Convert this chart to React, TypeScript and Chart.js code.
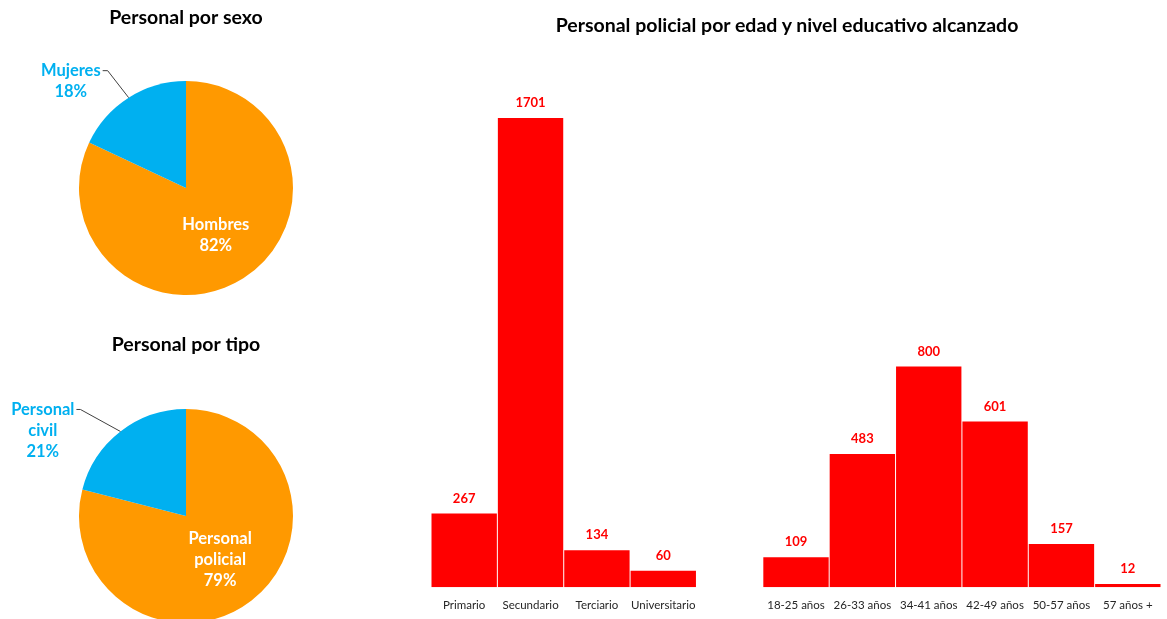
import React, { useEffect, useRef } from "react";
import { Chart, registerables } from "chart.js";

Chart.register(...registerables);

// ---- Data ----
const sexLabels = ["Hombres", "Mujeres"];
const sexValues = [82, 18];

const typeLabels = ["Personal policial", "Personal civil"];
const typeValues = [79, 21];

const eduLabels = ["Primario", "Secundario", "Terciario", "Universitario"];
const eduValues = [267, 1701, 134, 60];

const ageLabels = ["18-25 años", "26-33 años", "34-41 años", "42-49 años", "50-57 años", "57 años +"];
const ageValues = [109, 483, 800, 601, 157, 12];

const FONT = "Lato, 'Open Sans', sans-serif";
const ORANGE = "#FF9900";
const BLUE = "#00B0F0";
const RED = "#FF0000";

type PieLabelCfg = {
  insideLines: string[];
  outsideLines: string[];
  elbowDx: number;
  elbowDy: number;
  textGap: number;
};

function makePiePlugin(cfg: PieLabelCfg) {
  return {
    id: "pieLabels",
    afterDatasetsDraw(chart: any) {
      const ctx = chart.ctx;
      const meta = chart.getDatasetMeta(0);
      const inside = meta.data[0];
      const outside = meta.data[1];
      ctx.save();
      ctx.font = `bold 16.5px ${FONT}`;
      ctx.textAlign = "center";
      ctx.textBaseline = "middle";
      // inside label
      {
        const mid = (inside.startAngle + inside.endAngle) / 2;
        const r = inside.outerRadius * 0.52;
        const cx = inside.x + Math.cos(mid) * r;
        const cy = inside.y + Math.sin(mid) * r;
        const lh = 21;
        const n = cfg.insideLines.length;
        ctx.fillStyle = "#FFFFFF";
        cfg.insideLines.forEach((t, i) => {
          ctx.fillText(t, cx, cy + (i - (n - 1) / 2) * lh);
        });
      }
      // outside label with leader line
      {
        const mid = (outside.startAngle + outside.endAngle) / 2;
        const px = outside.x + Math.cos(mid) * outside.outerRadius;
        const py = outside.y + Math.sin(mid) * outside.outerRadius;
        const ex = px + cfg.elbowDx;
        const ey = py + cfg.elbowDy;
        const tx = ex - cfg.textGap;
        ctx.strokeStyle = "#404040";
        ctx.lineWidth = 1;
        ctx.beginPath();
        ctx.moveTo(px, py);
        ctx.lineTo(ex, ey);
        ctx.lineTo(tx, ey);
        ctx.stroke();
        ctx.fillStyle = BLUE;
        const lh = 21;
        const widths = cfg.outsideLines.map((t) => ctx.measureText(t).width);
        const maxW = Math.max(...widths);
        const centerX = tx - 2 - maxW / 2;
        cfg.outsideLines.forEach((t, i) => {
          ctx.fillText(t, centerX, ey + i * lh);
        });
      }
      ctx.restore();
    },
  };
}

function PieChart(props: {
  labels: string[];
  values: number[];
  title: string;
  style: React.CSSProperties;
  width: number;
  height: number;
  padding: { left: number; right: number; top: number; bottom: number };
  titlePad: { top: number; bottom: number };
  label: PieLabelCfg;
}) {
  const ref = useRef<HTMLCanvasElement>(null);
  useEffect(() => {
    const chart = new Chart(ref.current!, {
      type: "pie",
      data: {
        labels: props.labels,
        datasets: [
          {
            data: props.values,
            backgroundColor: [ORANGE, BLUE],
            borderWidth: 0,
          },
        ],
      },
      options: {
        animation: false,
        responsive: false,
        layout: { padding: props.padding },
        plugins: {
          legend: { display: false },
          tooltip: { enabled: false },
          title: {
            display: true,
            text: props.title,
            color: "#000000",
            font: { family: FONT, size: 19.5, weight: "bold", lineHeight: 1.2 },
            padding: props.titlePad,
          },
        },
      },
      plugins: [makePiePlugin(props.label)],
    });
    return () => chart.destroy();
  }, []);
  return <canvas ref={ref} width={props.width} height={props.height} style={props.style} />;
}

const dataLabelPlugin = {
  id: "barDataLabels",
  afterDatasetsDraw(chart: any) {
    const ctx = chart.ctx;
    const meta = chart.getDatasetMeta(0);
    const ds = chart.data.datasets[0].data;
    ctx.save();
    ctx.font = `bold 13px ${FONT}`;
    ctx.fillStyle = RED;
    ctx.textAlign = "center";
    ctx.textBaseline = "middle";
    meta.data.forEach((bar: any, i: number) => {
      const v = ds[i];
      if (v === null || v === undefined) return;
      ctx.fillText(String(v), bar.x, bar.y - 15);
    });
    ctx.restore();
  },
};

function BarChart() {
  const ref = useRef<HTMLCanvasElement>(null);
  useEffect(() => {
    const labels = [...eduLabels, "", ...ageLabels];
    const values: (number | null)[] = [...eduValues, null, ...ageValues];
    const chart = new Chart(ref.current!, {
      type: "bar",
      data: {
        labels,
        datasets: [
          {
            data: values,
            backgroundColor: RED,
            borderWidth: 0,
            barPercentage: 0.985,
            categoryPercentage: 1,
          },
        ],
      },
      options: {
        animation: false,
        responsive: false,
        layout: { padding: { left: 11, right: 6, top: 100, bottom: 0 } },
        plugins: {
          legend: { display: false },
          tooltip: { enabled: false },
          title: { display: false },
        },
        scales: {
          x: {
            grid: { display: false, drawTicks: false },
            border: { display: false },
            ticks: {
              color: "#262626",
              font: { family: FONT, size: 11.5 },
              padding: 11,
              autoSkip: false,
              maxRotation: 0,
            },
          },
          y: {
            display: false,
            min: 0,
            max: 1766,
          },
        },
      },
      plugins: [dataLabelPlugin],
    });
    return () => chart.destroy();
  }, []);
  return (
    <canvas
      ref={ref}
      width={747}
      height={623}
      style={{ position: "absolute", left: 420, top: 0, width: 747, height: 623 }}
    />
  );
}

export default function App() {
  return (
    <div
      style={{
        position: "absolute",
        left: 0,
        top: 0,
        width: 1167,
        height: 619,
        overflow: "hidden",
        background: "#FFFFFF",
      }}
    >
      <PieChart
        labels={sexLabels}
        values={sexValues}
        title="Personal por sexo"
        width={372}
        height={310}
        style={{ position: "absolute", left: 0, top: 0, width: 372, height: 310 }}
        padding={{ left: 79, right: 79, top: 0, bottom: 15 }}
        titlePad={{ top: 6.3, bottom: 51.3 }}
        label={{ insideLines: ["Hombres", "82%"], outsideLines: ["Mujeres", "18%"], elbowDx: -21, elbowDy: -27, textGap: 5 }}
      />
      <PieChart
        labels={typeLabels}
        values={typeValues}
        title="Personal por tipo"
        width={372}
        height={320}
        style={{ position: "absolute", left: 0, top: 310, width: 372, height: 320 }}
        padding={{ left: 79, right: 79, top: 0, bottom: 7 }}
        titlePad={{ top: 23.3, bottom: 52.3 }}
        label={{ insideLines: ["Personal", "policial", "79%"], outsideLines: ["Personal", "civil", "21%"], elbowDx: -40, elbowDy: -22, textGap: 4 }}
      />
      <BarChart />
      <div
        style={{
          position: "absolute",
          left: 487,
          top: 13,
          width: 600,
          textAlign: "center",
          fontFamily: FONT,
          fontWeight: "bold",
          fontSize: 19.5,
          lineHeight: "24px",
          color: "#000000",
        }}
      >
        Personal policial por edad y nivel educativo alcanzado
      </div>
    </div>
  );
}
